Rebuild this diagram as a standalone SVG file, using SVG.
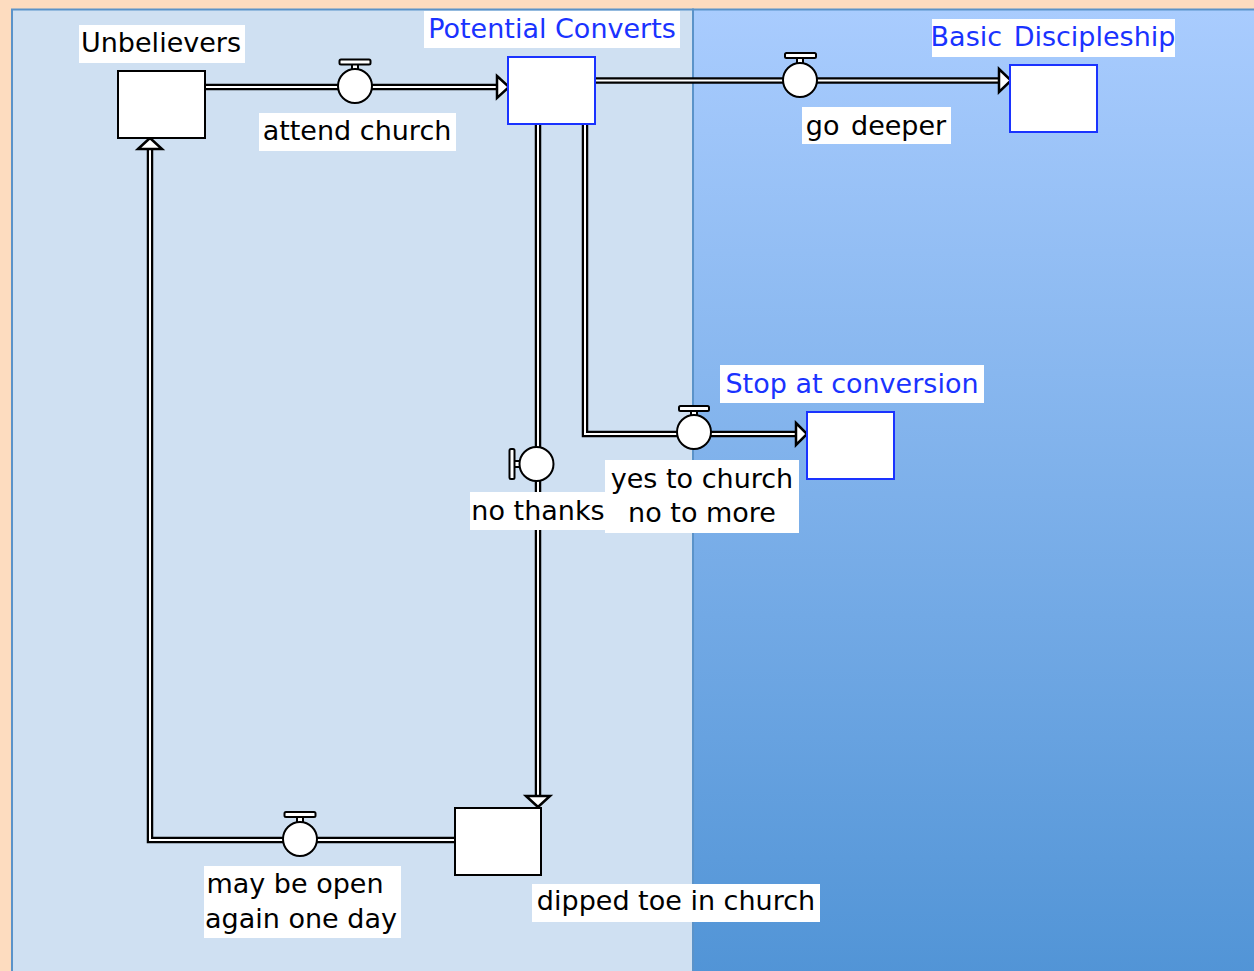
<svg xmlns="http://www.w3.org/2000/svg" width="1254" height="971" viewBox="0 0 1254 971">
<defs>
<linearGradient id="rg" x1="0" y1="0" x2="0" y2="1">
<stop offset="0" stop-color="#A9CCFE"/>
<stop offset="1" stop-color="#5194D6"/>
</linearGradient>
<style>
.lbl{font-family:"DejaVu Sans",sans-serif;font-size:27px;fill:#000;text-anchor:middle}
.blue{fill:#1A33FF}
.bg{fill:#fff}
.stock{fill:#fff;stroke:#000;stroke-width:2}
.stockb{fill:#fff;stroke:#1A33FF;stroke-width:2}
.po{fill:none;stroke:#000;stroke-width:6.5}
.pi{fill:none;stroke:#fff;stroke-width:2}
.ah{fill:#fff;stroke:#000;stroke-width:2.5;stroke-linejoin:miter}
.vc{fill:#fff;stroke:#000;stroke-width:2}
.vh{fill:#fff;stroke:#000;stroke-width:2}
</style>
</defs>
<rect x="0" y="0" width="1254" height="971" fill="#FDDCBF"/>
<rect x="12" y="9.5" width="681" height="970" fill="#CFE0F2" stroke="#5B93C9" stroke-width="2"/>
<rect x="693" y="9.5" width="570" height="970" fill="url(#rg)" stroke="#5B93C9" stroke-width="2"/>

<g id="connectors">
<path class="po" d="M205 87 H497"/><path class="pi" d="M205 87 H497"/>
<path class="po" d="M595 80.5 H999"/><path class="pi" d="M595 80.5 H999"/>
<path class="po" d="M585 124 V434 H796"/><path class="pi" d="M585 124 V434 H796"/>
<path class="po" d="M538 124 V796"/><path class="pi" d="M538 124 V796"/>
<path class="po" d="M455 840 H150 V149"/><path class="pi" d="M455 840 H150 V149"/>
<polygon class="ah" points="497,76 509,87 497,98"/>
<polygon class="ah" points="999,69 1011,80.5 999,92"/>
<polygon class="ah" points="796,423 807,434 796,445"/>
<polygon class="ah" points="526,796 538,807 550,796"/>
<polygon class="ah" points="138,149 150,138 162,149"/>
</g>

<g id="valve-attend-church">
<rect class="vh" x="352" y="63.5" width="6" height="7"/>
<rect class="vh" x="339.5" y="59.5" width="31" height="5" rx="1.5"/>
<circle class="vc" cx="355" cy="86" r="17"/>
<rect class="bg" x="259" y="113" width="197" height="38"/>
<text class="lbl" x="357" y="140">attend church</text>
</g>
<g id="valve-go-deeper">
<rect class="vh" x="797" y="57" width="6" height="7"/>
<rect class="vh" x="785" y="53" width="31" height="5" rx="1.5"/>
<circle class="vc" cx="800" cy="80" r="17"/>
<rect class="bg" x="802" y="107" width="149" height="37"/>
<text class="lbl" x="876" y="135" word-spacing="3">go deeper</text>
</g>
<g id="valve-yes-to-church">
<rect class="vh" x="691" y="410" width="6" height="6"/>
<rect class="vh" x="679" y="406" width="30" height="5" rx="1.5"/>
<circle class="vc" cx="694" cy="432" r="17"/>
<rect class="bg" x="605" y="460" width="194" height="73"/>
<text class="lbl" x="702" y="488">yes to church</text>
<text class="lbl" x="702" y="522">no to more</text>
</g>
<g id="valve-no-thanks">
<rect class="vh" x="513" y="461" width="7" height="6"/>
<rect class="vh" x="509.5" y="449" width="5" height="30" rx="1.5"/>
<circle class="vc" cx="536.5" cy="464" r="17"/>
<rect class="bg" x="470" y="492" width="136" height="38"/>
<text class="lbl" x="538" y="520">no thanks</text>
</g>
<g id="valve-may-be-open">
<rect class="vh" x="297" y="816" width="6" height="7"/>
<rect class="vh" x="284.5" y="812" width="31" height="5" rx="1.5"/>
<circle class="vc" cx="300" cy="839" r="17"/>
<rect class="bg" x="204" y="866" width="197" height="72"/>
<text class="lbl" x="295" y="893">may be open</text>
<text class="lbl" x="301" y="928">again one day</text>
</g>

<g id="unbelievers">
<rect class="stock" x="118" y="71" width="87" height="67"/>
<rect class="bg" x="79" y="25" width="166" height="38"/>
<text class="lbl" x="161" y="52">Unbelievers</text>
</g>
<g id="potential-converts">
<rect class="stockb" x="508" y="57" width="87" height="67"/>
<rect class="bg" x="424" y="11" width="256" height="37"/>
<text class="lbl blue" x="552" y="38">Potential Converts</text>
</g>
<g id="basic-discipleship">
<rect class="stockb" x="1010" y="65" width="87" height="67"/>
<rect class="bg" x="932" y="19" width="243" height="38"/>
<text class="lbl blue" x="1053" y="46" word-spacing="3">Basic Discipleship</text>
</g>
<g id="stop-at-conversion">
<rect class="stockb" x="807" y="412" width="87" height="67"/>
<rect class="bg" x="720" y="365" width="264" height="38"/>
<text class="lbl blue" x="852" y="393">Stop at conversion</text>
</g>
<g id="dipped-toe">
<rect class="stock" x="455" y="808" width="86" height="67"/>
<rect class="bg" x="532" y="884" width="288" height="38"/>
<text class="lbl" x="676" y="910">dipped toe in church</text>
</g>
</svg>
